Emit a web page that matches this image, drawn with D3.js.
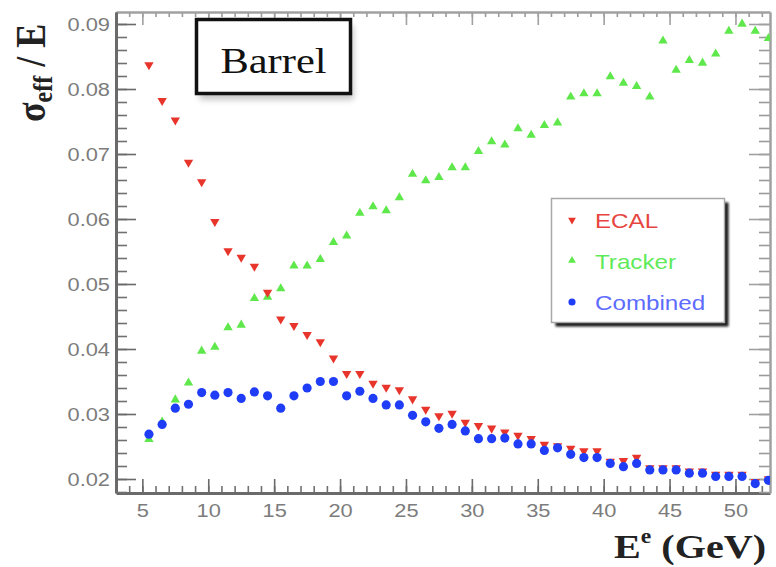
<!DOCTYPE html>
<html>
<head>
<meta charset="utf-8">
<script src="https://cdn.jsdelivr.net/npm/d3@7"></script>
<style>
  html, body { margin: 0; padding: 0; background: #fff; }
  svg { display: block; }
</style>
</head>
<body>
<div id="chart"></div>
<script>
// Electron energy bins (GeV, bin centres)
const energy = [5.5, 6.5, 7.5, 8.5, 9.5, 10.5, 11.5, 12.5, 13.5, 14.5, 15.5, 16.5,
  17.5, 18.5, 19.5, 20.5, 21.5, 22.5, 23.5, 24.5, 25.5, 26.5, 27.5, 28.5,
  29.5, 30.5, 31.5, 32.5, 33.5, 34.5, 35.5, 36.5, 37.5, 38.5, 39.5, 40.5,
  41.5, 42.5, 43.5, 44.5, 45.5, 46.5, 47.5, 48.5, 49.5, 50.5, 51.5, 52.5];

// sigma_eff / E for each reconstruction
const ecal = [0.0837, 0.0782, 0.0752, 0.0687, 0.0657, 0.0596, 0.0551, 0.0541, 0.0527, 0.0487, 0.0446, 0.0436,
  0.0422, 0.0411, 0.0386, 0.0362, 0.0362, 0.0347, 0.0341, 0.0337, 0.0323, 0.0307, 0.0297, 0.0301,
  0.0287, 0.0282, 0.0278, 0.0272, 0.0267, 0.0262, 0.0253, 0.0251, 0.0247, 0.0243, 0.0243, 0.0227,
  0.0228, 0.0233, 0.0217, 0.0217, 0.0217, 0.0212, 0.0212, 0.0207, 0.0207, 0.0207, 0.0196, 0.0200];

const tracker = [0.0261, 0.0288, 0.0322, 0.0348, 0.0397, 0.0403, 0.0433, 0.0437, 0.0478, 0.0480, 0.0493, 0.0528,
  0.0528, 0.0538, 0.0564, 0.0574, 0.0609, 0.0619, 0.0613, 0.0633, 0.0669, 0.0659, 0.0664, 0.0679,
  0.0679, 0.0704, 0.0719, 0.0714, 0.0739, 0.0729, 0.0744, 0.0748, 0.0788, 0.0793, 0.0793, 0.0819,
  0.0809, 0.0804, 0.0788, 0.0874, 0.0829, 0.0844, 0.0840, 0.0854, 0.0889, 0.0900, 0.0889, 0.0878];

const combined = [0.0269, 0.0284, 0.0309, 0.0315, 0.0333, 0.0329, 0.0333, 0.0324, 0.0334, 0.0328, 0.0309, 0.0328,
  0.0340, 0.0350, 0.0350, 0.0328, 0.0335, 0.0324, 0.0314, 0.0314, 0.0298, 0.0288, 0.0278, 0.0284,
  0.0274, 0.0262, 0.0262, 0.0263, 0.0254, 0.0254, 0.0244, 0.0248, 0.0238, 0.0233, 0.0233, 0.0224,
  0.0219, 0.0224, 0.0214, 0.0214, 0.0214, 0.0209, 0.0209, 0.0204, 0.0204, 0.0204, 0.0193, 0.0198];

// Axis ticks
const xMajorTicks = [5, 10, 15, 20, 25, 30, 35, 40, 45, 50];
const xMinorTicks = d3.range(3, 53);
const yMajorTicks = [0.02, 0.03, 0.04, 0.05, 0.06, 0.07, 0.08, 0.09];
const yMinorTicks = [0.018, 0.020, 0.022, 0.024, 0.026, 0.028, 0.030, 0.032, 0.034, 0.036, 0.038,
  0.040, 0.042, 0.044, 0.046, 0.048, 0.050, 0.052, 0.054, 0.056, 0.058, 0.060, 0.062, 0.064,
  0.066, 0.068, 0.070, 0.072, 0.074, 0.076, 0.078, 0.080, 0.082, 0.084, 0.086, 0.088, 0.090];

const seriesNames = ["ECAL", "Tracker", "Combined"];

// ---------------------------------------------------------------
const W = 776, H = 567;
const frame = { left: 116, right: 770, top: 12, bottom: 493 };
const SX = 1.18;                       // horizontal glyph stretch
const sans = "'Liberation Sans', Arial, Helvetica, sans-serif";
const serif = "'Liberation Serif', 'Times New Roman', serif";

const colors = { ECAL: "#e8352b", Tracker: "#5fe84b", Combined: "#1f3df7" };
const textColors = { ECAL: "#e6463f", Tracker: "#5fea5a", Combined: "#5d6bff" };

const x = d3.scaleLinear().domain([3, 52.62]).range([frame.left, frame.right]);
const y = d3.scaleLinear().domain([0.017846, 0.091846]).range([frame.bottom, frame.top]);

const svg = d3.select("#chart").append("svg")
  .attr("width", W).attr("height", H);

const defs = svg.append("defs");
defs.append("clipPath").attr("id", "plotClip")
  .append("rect")
  .attr("x", frame.left).attr("y", frame.top)
  .attr("width", frame.right - frame.left).attr("height", frame.bottom - frame.top);
const soft = defs.append("filter").attr("id", "softShadow")
  .attr("x", "-20%").attr("y", "-20%").attr("width", "140%").attr("height", "150%");
soft.append("feGaussianBlur").attr("stdDeviation", 3);
const hard = defs.append("filter").attr("id", "hardShadow")
  .attr("x", "-10%").attr("y", "-10%").attr("width", "120%").attr("height", "130%");
hard.append("feGaussianBlur").attr("stdDeviation", 1);

// ---- axes (ROOT style: ticks inside frame, mirrored on top/right)
const axisColor = "#707070";
function styleAxis(g, strokeW, col) {
  g.selectAll("path.domain").attr("stroke", col).attr("stroke-width", strokeW);
  g.selectAll(".tick line").attr("stroke", col).attr("stroke-width", 1.6);
}

// bottom
svg.append("g").attr("transform", `translate(0,${frame.bottom})`)
  .call(d3.axisBottom(x).tickValues(xMinorTicks).tickSize(-7).tickSizeOuter(0).tickFormat(""))
  .call(g => styleAxis(g, 0, axisColor));
const xAxisG = svg.append("g").attr("transform", `translate(0,${frame.bottom})`)
  .call(d3.axisBottom(x).tickValues(xMajorTicks).tickSize(-14).tickSizeOuter(0).tickFormat(d3.format("d")))
  .call(g => styleAxis(g, 3, "#6a6a6a"));
xAxisG.selectAll(".tick text")
  .attr("y", 0).attr("dy", null)
  .attr("transform", `translate(0,24) scale(${SX},1)`)
  .attr("font-family", sans).attr("font-size", 18.5).attr("fill", "#7c7c7c");

// top (mirrored, no labels)
svg.append("g").attr("transform", `translate(0,${frame.top})`)
  .call(d3.axisBottom(x).tickValues(xMinorTicks).tickSize(5).tickSizeOuter(0).tickFormat(""))
  .call(g => styleAxis(g, 0, "#9a9a9a"));
svg.append("g").attr("transform", `translate(0,${frame.top})`)
  .call(d3.axisBottom(x).tickValues(xMajorTicks).tickSize(13).tickSizeOuter(0).tickFormat(""))
  .call(g => styleAxis(g, 2.5, "#a0a0a0"));

// left
svg.append("g").attr("transform", `translate(${frame.left},0)`)
  .call(d3.axisLeft(y).tickValues(yMinorTicks).tickSize(-11).tickSizeOuter(0).tickFormat(""))
  .call(g => styleAxis(g, 0, axisColor));
const yAxisG = svg.append("g").attr("transform", `translate(${frame.left},0)`)
  .call(d3.axisLeft(y).tickValues(yMajorTicks).tickSize(-20).tickSizeOuter(0).tickFormat(d3.format(".2f")))
  .call(g => styleAxis(g, 3, "#6a6a6a"));
yAxisG.selectAll(".tick text")
  .attr("x", 0).attr("dy", "0.36em")
  .attr("transform", `translate(-6,0) scale(${SX},1)`)
  .attr("font-family", sans).attr("font-size", 18.5).attr("fill", "#7c7c7c");

// right (mirrored, no labels)
svg.append("g").attr("transform", `translate(${frame.right},0)`)
  .call(d3.axisLeft(y).tickValues(yMinorTicks).tickSize(11).tickSizeOuter(0).tickFormat(""))
  .call(g => styleAxis(g, 0, "#9a9a9a"));
svg.append("g").attr("transform", `translate(${frame.right},0)`)
  .call(d3.axisLeft(y).tickValues(yMajorTicks).tickSize(21).tickSizeOuter(0).tickFormat(""))
  .call(g => styleAxis(g, 2.5, "#a0a0a0"));

// ---- markers
const triUp = d3.symbol().type(d3.symbolTriangle).size(38)();
const dot = d3.symbol().type(d3.symbolCircle).size(66)();

const rows = energy.map((e, i) => ({ e, ecal: ecal[i], tracker: tracker[i], combined: combined[i] }));
const plot = svg.append("g").attr("clip-path", "url(#plotClip)");

plot.append("g").selectAll("path").data(rows).join("path")
  .attr("d", triUp)
  .attr("transform", d => `translate(${x(d.e)},${y(d.tracker)})`)
  .attr("fill", colors.Tracker);

plot.append("g").selectAll("path").data(rows).join("path")
  .attr("d", triUp)
  .attr("transform", d => `translate(${x(d.e)},${y(d.ecal)}) rotate(180)`)
  .attr("fill", colors.ECAL);

plot.append("g").selectAll("path").data(rows).join("path")
  .attr("d", dot)
  .attr("transform", d => `translate(${x(d.e)},${y(d.combined)})`)
  .attr("fill", colors.Combined);

// ---- "Barrel" label box
const tb = { x: 196.5, y: 19.5, w: 154, h: 74 };
svg.append("rect")
  .attr("x", tb.x + 3).attr("y", tb.y + 6).attr("width", tb.w).attr("height", tb.h)
  .attr("fill", "#9a9a9a").attr("opacity", 0.6).attr("filter", "url(#softShadow)");
svg.append("rect")
  .attr("x", tb.x).attr("y", tb.y).attr("width", tb.w).attr("height", tb.h)
  .attr("fill", "#fff").attr("stroke", "#111").attr("stroke-width", 3.5);
svg.append("text")
  .attr("transform", `translate(${tb.x + tb.w / 2},${tb.y + 53}) scale(${SX},1)`)
  .attr("text-anchor", "middle")
  .attr("font-family", serif).attr("font-size", 36).attr("fill", "#111")
  .text("Barrel");

// ---- legend
const lg = { x: 551.5, y: 198.5, w: 173, h: 124 };
svg.append("rect")
  .attr("x", lg.x + 4).attr("y", lg.y + 4).attr("width", lg.w).attr("height", lg.h)
  .attr("fill", "#1a1a1a").attr("filter", "url(#hardShadow)");
svg.append("rect")
  .attr("x", lg.x).attr("y", lg.y).attr("width", lg.w).attr("height", lg.h)
  .attr("fill", "#fff").attr("stroke", "#a8a8a8").attr("stroke-width", 1.5);

const legendRows = [
  { name: seriesNames[0], cy: 221, rot: 180 },
  { name: seriesNames[1], cy: 261.5, rot: 0 },
  { name: seriesNames[2], cy: 303, rot: 0 }
];
const lgTri = d3.symbol().type(d3.symbolTriangle).size(26)();
const lgDot = d3.symbol().type(d3.symbolCircle).size(40)();
const lgItems = svg.append("g").selectAll("g").data(legendRows).join("g");
lgItems.append("path")
  .attr("d", d => d.name === "Combined" ? lgDot : lgTri)
  .attr("transform", d => `translate(572,${d.cy - 1}) rotate(${d.rot})`)
  .attr("fill", d => colors[d.name]);
lgItems.append("text")
  .attr("transform", d => `translate(595,${d.cy + 7}) scale(${SX},1)`)
  .attr("font-family", sans).attr("font-size", 20.5)
  .attr("fill", d => textColors[d.name])
  .text(d => d.name);

// ---- axis titles
const xt = svg.append("text")
  .attr("transform", `translate(766,558) scale(${SX},1)`)
  .attr("text-anchor", "end")
  .attr("font-family", serif).attr("font-weight", "bold").attr("font-size", 34).attr("fill", "#222");
xt.append("tspan").text("E");
xt.append("tspan").attr("font-size", 20).attr("dy", -15).text("e");
xt.append("tspan").attr("dy", 15).text(" (GeV)");

const yt = svg.append("text")
  .attr("transform", `translate(45,122) scale(${SX},1) rotate(-90)`)
  .attr("text-anchor", "start")
  .attr("font-family", serif).attr("font-weight", "bold").attr("font-size", 36).attr("fill", "#222");
yt.append("tspan").text("σ");
yt.append("tspan").attr("font-size", 24).attr("dy", 6).text("eff");
yt.append("tspan").attr("dy", -6).text(" / E");
</script>
</body>
</html>
